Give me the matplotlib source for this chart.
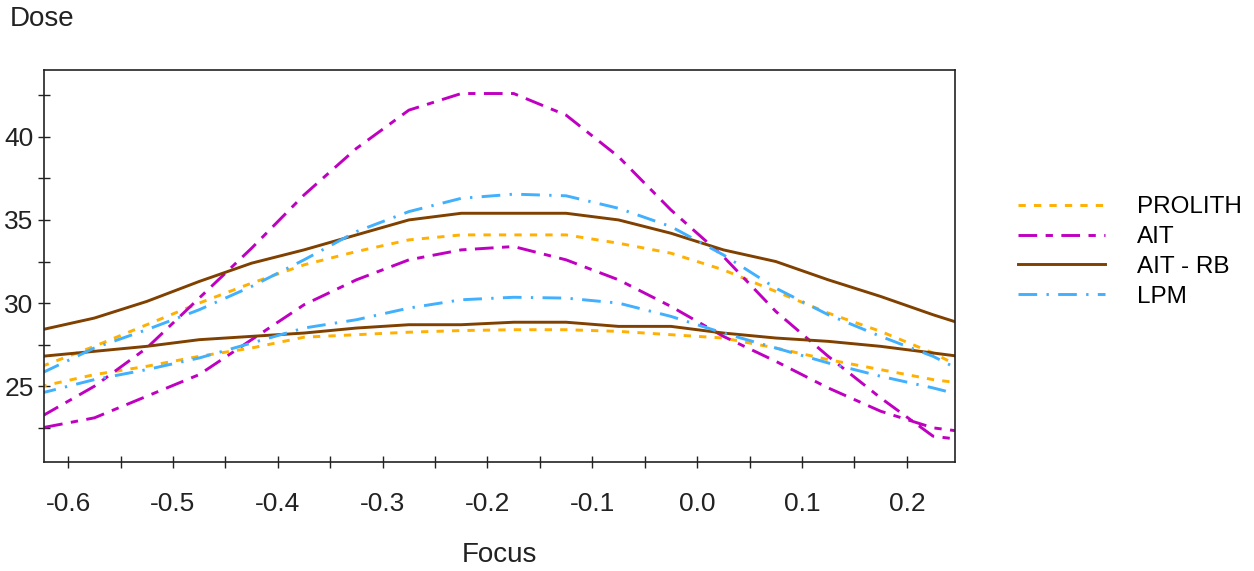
"""Dose vs focus process windows for four lithography models."""

import matplotlib
matplotlib.use("Agg")
import matplotlib.pyplot as plt
from matplotlib.ticker import MultipleLocator

# focus grid shared by all curves
focus = [-0.625, -0.575, -0.525, -0.475, -0.425, -0.375, -0.325, -0.275,
         -0.225, -0.175, -0.125, -0.075, -0.025, 0.025, 0.075, 0.125,
         0.175, 0.225, 0.25]

# upper / lower dose limits per model
prolith_hi = [26.2, 27.4, 28.7, 30.0, 31.2, 32.3, 33.1, 33.8, 34.1, 34.1,
              34.1, 33.6, 33.0, 32.0, 30.7, 29.4, 28.3, 27.0, 26.2]
prolith_lo = [25.0, 25.7, 26.2, 26.8, 27.3, 27.95, 28.1, 28.25, 28.35, 28.4,
              28.4, 28.3, 28.1, 27.9, 27.3, 26.6, 26.0, 25.4, 25.2]

ait_hi = [23.2, 25.0, 27.3, 30.3, 33.3, 36.5, 39.3, 41.6, 42.6, 42.6,
          41.3, 38.8, 35.6, 32.8, 29.5, 26.8, 24.3, 22.0, 21.8]
ait_lo = [22.5, 23.1, 24.4, 25.7, 27.8, 29.9, 31.4, 32.6, 33.2, 33.4,
          32.6, 31.4, 29.8, 28.0, 26.5, 24.9, 23.5, 22.5, 22.3]

aitrb_hi = [28.4, 29.1, 30.1, 31.3, 32.4, 33.2, 34.1, 35.0, 35.4, 35.4,
            35.4, 35.0, 34.2, 33.2, 32.5, 31.4, 30.4, 29.3, 28.8]
aitrb_lo = [26.8, 27.1, 27.4, 27.8, 28.0, 28.2, 28.5, 28.7, 28.7, 28.85,
            28.85, 28.6, 28.6, 28.2, 27.9, 27.7, 27.4, 27.0, 26.8]

lpm_hi = [25.8, 27.3, 28.4, 29.6, 31.0, 32.6, 34.3, 35.5, 36.3, 36.55,
          36.45, 35.7, 34.6, 32.9, 30.9, 29.3, 28.0, 26.8, 26.0]
lpm_lo = [24.6, 25.4, 26.0, 26.7, 27.6, 28.5, 29.0, 29.7, 30.2, 30.35,
          30.3, 30.0, 29.2, 28.2, 27.3, 26.4, 25.6, 24.9, 24.5]

labels = ["PROLITH", "AIT", "AIT - RB", "LPM"]


def main() -> None:
    plt.rcParams["font.family"] = ["Liberation Sans", "DejaVu Sans"]

    fig = plt.figure(figsize=(12.54, 5.71), dpi=100)
    ax = fig.add_axes([0.0351, 0.191, 0.7265, 0.686])

    series = [
        (prolith_hi, prolith_lo, "#FFB000", (0, (2.5, 2.8))),
        (ait_hi, ait_lo, "#C000C0", (0, (6.4, 2.9, 2.5, 2.9))),
        (aitrb_hi, aitrb_lo, "#804000", "-"),
        (lpm_hi, lpm_lo, "#40B0FF", (0, (6.4, 3.2, 0.8, 3.2))),
    ]

    for (hi, lo, color, ls), label in zip(series, labels):
        # closed window: upper edge left->right, lower edge back, close at left
        xs = focus + focus[::-1] + [focus[0]]
        ys = hi + lo[::-1] + [hi[0]]
        ax.plot(xs, ys, color=color, linestyle=ls, linewidth=2.1, label=label)

    ax.set_xlim(-0.623, 0.246)
    ax.set_ylim(20.45, 44.0)

    ax.xaxis.set_major_locator(MultipleLocator(0.1))
    ax.xaxis.set_minor_locator(MultipleLocator(0.05))
    ax.yaxis.set_major_locator(MultipleLocator(5))
    ax.yaxis.set_minor_locator(MultipleLocator(2.5))
    ax.xaxis.set_major_formatter(plt.FuncFormatter(lambda v, p: f"{v:.1f}"))

    ax.tick_params(which="both", direction="inout", length=9, width=1.0,
                   labelsize=19, colors="#222222")
    ax.tick_params(axis="x", pad=17)
    ax.tick_params(axis="y", pad=3)

    for sp in ax.spines.values():
        sp.set_linewidth(1.2)
        sp.set_color("#222222")

    ax.set_xlabel("Focus", fontsize=20, labelpad=19, color="#222222")
    fig.text(0.008, 0.966, "Dose", fontsize=20, va="center", ha="left",
             color="#222222")

    ax.legend(loc="center left", bbox_to_anchor=(1.045, 0.536), frameon=False,
              fontsize=17.5, handlelength=3.6, handletextpad=1.3,
              labelspacing=0.32)

    fig.savefig("out.png", dpi=100)
    plt.close(fig)


if __name__ == "__main__":
    main()
